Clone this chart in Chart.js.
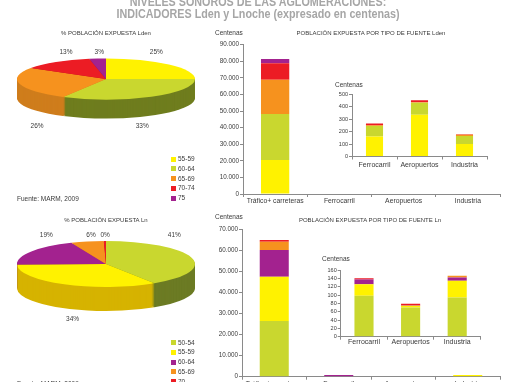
<!DOCTYPE html>
<html>
<head>
<meta charset="utf-8">
<script src="https://cdn.jsdelivr.net/npm/chart.js@4.4.1/dist/chart.umd.min.js"></script>
<style>
  html, body { margin: 0; padding: 0; background: #fff; }
  body { position: relative; width: 510px; height: 382px; overflow: hidden;
         font-family: 'Liberation Sans', Arial, sans-serif; color: #3a3a3a; }
  canvas { position: absolute; }
  .txt { position: absolute; white-space: nowrap; line-height: 1; }
  .sq { position: absolute; width: 5px; height: 5px; }
</style>
</head>
<body>
<canvas id="barLden" width="300" height="190" style="left:210px;top:25px"></canvas>
<canvas id="insLden" width="180" height="100" style="left:320px;top:75px"></canvas>
<canvas id="barLn" width="300" height="200" style="left:210px;top:205px"></canvas>
<canvas id="insLn" width="180" height="100" style="left:310px;top:250px"></canvas>
<canvas id="pieLden" width="212" height="212" style="left:0;top:-27px"></canvas>
<canvas id="pieLn" width="212" height="212" style="left:0;top:158px"></canvas>

<script>
// categories
const fuentesMain = ['Tráfico+ carreteras', 'Ferrocarril', 'Aeropuertos', 'Industria'];
const fuentesInset = ['Ferrocarril', 'Aeropuertos', 'Industria'];

// Lden bands
const rangosLden = ['55-59', '60-64', '65-69', '70-74', '75'];
const pctLden = [25, 33, 26, 13, 3];
const ldenTrafico = [20500, 27800, 20500, 10000, 2600];
const ldenFerrocarril = [160, 85, 5, 15, 0];
const ldenAeropuertos = [335, 95, 5, 15, 0];
const ldenIndustria = [100, 65, 10, 3, 0];

// Ln bands
const rangosLn = ['50-54', '55-59', '60-64', '65-69', '70'];
const pctLn = [41, 34, 19, 6, 0.4];
const lnTrafico = [26500, 21000, 12700, 3900, 800];
const lnFerrocarril = [98, 28, 11, 0, 3];
const lnAeropuertos = [70, 4, 1, 0, 4];
const lnIndustria = [94, 40, 8, 4, 0];
// the thin marks at the foot of the big Ln chart
const lnFerrocarrilMain = [0, 0, 800, 0, 0];
const lnIndustriaMain = [0, 800, 0, 0, 0];
const sinDatos = [0, 0, 0, 0, 0];

// y axis ticks
const ticksLden = { max: 90000, step: 10000 };
const ticksLn = { max: 70000, step: 10000 };
const ticksInsLden = { max: 500, step: 100 };
const ticksInsLn = { max: 160, step: 20 };

// colours
const amarillo = '#fff200', verde = '#c9d72f', naranja = '#f6921e', rojo = '#ec1c24', morado = '#a3228f';
const coloresLden = [amarillo, verde, naranja, rojo, morado];
const ladosLden = ['#d6b300', '#6f7d1e', '#cf7d1c', '#b3161c', '#7c1866'];
const coloresLn = [verde, amarillo, morado, naranja, rojo];
const ladosLn = ['#6c7b24', '#d6b300', '#7c1866', '#cf7d1c', '#b3161c'];

const FAMILY = "'Liberation Sans', Arial, sans-serif";
Chart.defaults.font.family = FAMILY;

// --- text helpers
function texto(str, x, y, size, opts) {
    opts = opts || {};
    const d = document.createElement('div');
    d.className = 'txt';
    d.textContent = str;
    d.style.fontSize = size + 'px';
    d.style.left = x + 'px';
    d.style.top = y + 'px';
    let tr = opts.left ? 'translate(0,-50%)' : 'translate(-50%,-50%)';
    if (opts.sx) tr += ' scaleX(' + opts.sx + ')';
    d.style.transform = tr;
    if (opts.color) d.style.color = opts.color;
    if (opts.bold) d.style.fontWeight = 'bold';
    document.body.appendChild(d);
}

function leyenda(labels, colors, x, y) {
    labels.forEach(function(lab, i) {
        const sq = document.createElement('div');
        sq.className = 'sq';
        sq.style.background = colors[i];
        sq.style.left = x + 'px';
        sq.style.top = (y + i * 9.75 - 2.5) + 'px';
        document.body.appendChild(sq);
        texto(lab, x + 7, y + i * 9.75, 6.5, { left: true });
    });
}

function miles(v) {
    return String(v).replace(/\B(?=(\d{3})+(?!\d))/g, '.');
}

// --- 3D look for the pies: side walls + flattened top face + % labels
const pie3d = {
    id: 'pie3d',
    beforeDatasetsDraw(chart, args, o) {
        const ctx = chart.ctx;
        const arcs = chart.getDatasetMeta(0).data;
        const cy = arcs[0].y;
        const k = o.ry / arcs[0].outerRadius;
        for (let d = o.depth; d > 0; d--) {
            ctx.save();
            ctx.translate(0, cy + d);
            ctx.scale(1, k);
            ctx.translate(0, -cy);
            arcs.forEach(function(a, i) {
                ctx.beginPath();
                ctx.moveTo(a.x, a.y);
                ctx.arc(a.x, a.y, a.outerRadius, a.startAngle, a.endAngle);
                ctx.closePath();
                ctx.fillStyle = o.sides[i];
                ctx.fill();
            });
            ctx.restore();
        }
        ctx.save();
        ctx.translate(0, cy);
        ctx.scale(1, k);
        ctx.translate(0, -cy);
    },
    afterDatasetsDraw(chart) {
        chart.ctx.restore();
    },
    afterDraw(chart, args, o) {
        const ctx = chart.ctx;
        const arcs = chart.getDatasetMeta(0).data;
        const values = chart.data.datasets[0].data;
        ctx.save();
        ctx.font = '6.5px ' + FAMILY;
        ctx.fillStyle = '#3a3a3a';
        ctx.textAlign = 'center';
        ctx.textBaseline = 'middle';
        arcs.forEach(function(a, i) {
            const mid = (a.startAngle + a.endAngle) / 2;
            const x = a.x + Math.cos(mid) * a.outerRadius * 0.8;
            const y = Math.sin(mid) < 0 ? a.y - o.ry - 6 : a.y + o.ry + o.depth + 8;
            ctx.fillText(Math.round(values[i]) + '%', x, y);
        });
        ctx.restore();
    }
};

function tarta(id, labels, data, colors, sides, ry, depth) {
    return new Chart(document.getElementById(id), {
        type: 'pie',
        data: {
            labels: labels,
            datasets: [{ data: data, backgroundColor: colors, borderWidth: 0, radius: 89, clip: false }]
        },
        options: {
            responsive: false,
            animation: false,
            events: [],
            layout: { padding: 0 },
            plugins: {
                legend: { display: false },
                tooltip: { enabled: false },
                pie3d: { ry: ry, depth: depth, sides: sides }
            }
        },
        plugins: [pie3d]
    });
}

function barras(id, labels, bandas, fuentes, colors, ticks, cfg) {
    const datasets = bandas.map(function(b, i) {
        return {
            label: b,
            data: fuentes.map(function(f) { return f[i]; }),
            backgroundColor: colors[i],
            borderWidth: 0,
            barPercentage: cfg.bar,
            categoryPercentage: 1
        };
    });
    return new Chart(document.getElementById(id), {
        type: 'bar',
        data: { labels: labels, datasets: datasets },
        options: {
            responsive: false,
            animation: false,
            events: [],
            layout: { padding: cfg.pad },
            plugins: { legend: { display: false }, tooltip: { enabled: false } },
            scales: {
                x: {
                    stacked: true,
                    grid: { drawOnChartArea: false, tickLength: 3, color: '#8a8a8a', offset: true },
                    border: { color: '#8a8a8a' },
                    ticks: { font: { size: cfg.xSize }, color: '#3a3a3a', padding: cfg.xPad, maxRotation: 0, autoSkip: false },
                    afterFit: function(s) { s.height = cfg.xH; }
                },
                y: {
                    stacked: true,
                    min: 0,
                    max: ticks.max,
                    grid: { drawOnChartArea: false, tickLength: 3, color: '#8a8a8a' },
                    border: { color: '#8a8a8a' },
                    ticks: { stepSize: ticks.step, autoSkip: false, font: { size: cfg.ySize }, color: '#3a3a3a', padding: 1, callback: miles },
                    afterFit: function(s) { s.width = cfg.yW; }
                }
            }
        }
    });
}

// pies
tarta('pieLden', rangosLden, pctLden, coloresLden, ladosLden, 20.5, 19);
tarta('pieLn', rangosLn, pctLn, coloresLn, ladosLn, 23, 24);

// big bar charts
barras('barLden', fuentesMain, rangosLden, [ldenTrafico, sinDatos, sinDatos, sinDatos], coloresLden, ticksLden,
    { bar: 0.44, pad: { left: 0, top: 19.7, right: 10, bottom: 0 }, yW: 33, xH: 21, xSize: 6.8, ySize: 6.3, xPad: 0 });
barras('barLn', fuentesMain, rangosLn, [lnTrafico, lnFerrocarrilMain, sinDatos, lnIndustriaMain], coloresLn, ticksLn,
    { bar: 0.45, pad: { left: 0, top: 24.3, right: 10, bottom: 0 }, yW: 32, xH: 28.3, xSize: 6.8, ySize: 6.3, xPad: 0 });

// insets
barras('insLden', fuentesInset, rangosLden, [ldenFerrocarril, ldenAeropuertos, ldenIndustria], coloresLden, ticksInsLden,
    { bar: 0.38, pad: { left: 0, top: 19, right: 13, bottom: 0 }, yW: 32, xH: 18.5, xSize: 7, ySize: 5.5, xPad: 1 });
barras('insLn', fuentesInset, rangosLn, [lnFerrocarril, lnAeropuertos, lnIndustria], coloresLn, ticksInsLn,
    { bar: 0.41, pad: { left: 0, top: 20, right: 9.5, bottom: 0 }, yW: 30.7, xH: 13.3, xSize: 7, ySize: 5.5, xPad: -2 });

// titles and labels
texto('NIVELES SONOROS DE LAS AGLOMERACIONES:', 258, 1.5, 12.5, { bold: true, color: '#a6a6a6', sx: 0.86 });
texto('INDICADORES Lden y Lnoche (expresado en centenas)', 258, 14, 12.5, { bold: true, color: '#a6a6a6', sx: 0.86 });

texto('% POBLACIÓN EXPUESTA Lden', 106, 33, 6);
texto('Centenas', 215, 32.5, 6.5, { left: true });
texto('POBLACIÓN EXPUESTA POR TIPO DE FUENTE Lden', 371, 32.5, 6);
texto('Centenas', 335, 85, 6.5, { left: true });
texto('Fuente: MARM, 2009', 17, 199, 6.5, { left: true });
leyenda(rangosLden, coloresLden, 171, 159);

texto('% POBLACIÓN EXPUESTA Ln', 106, 220, 6);
texto('Centenas', 215, 217, 6.5, { left: true });
texto('POBLACIÓN EXPUESTA POR TIPO DE FUENTE Ln', 370, 220, 6);
texto('Centenas', 322, 259, 6.5, { left: true });
texto('Fuente: MARM, 2009', 17, 384, 6.5, { left: true });
leyenda(rangosLn, coloresLn, 171, 342.5);
</script>
</body>
</html>
